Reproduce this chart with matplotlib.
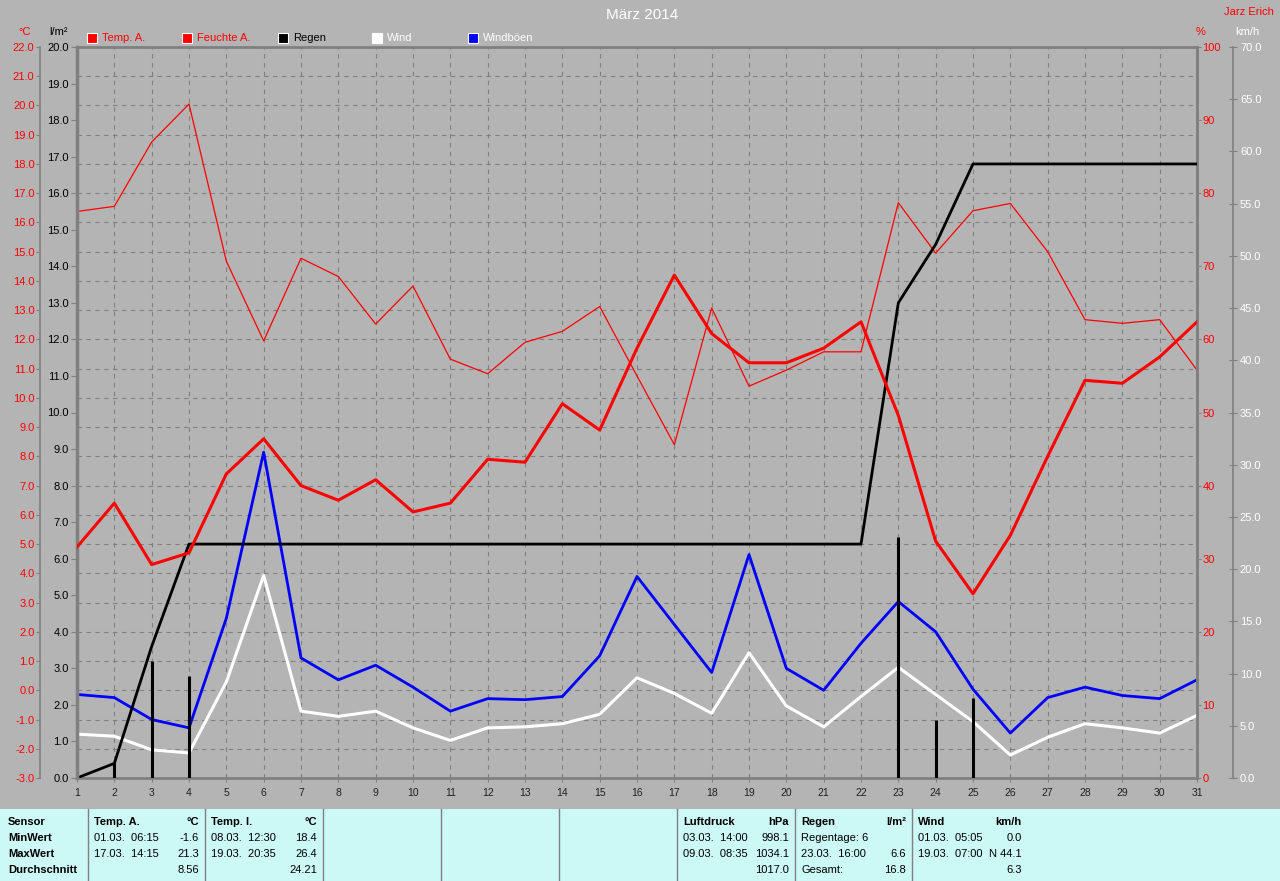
import matplotlib
matplotlib.use('Agg')
import matplotlib.pyplot as plt
from matplotlib.patches import Rectangle
from matplotlib.lines import Line2D
from matplotlib.ticker import MultipleLocator, FormatStrFormatter

plt.rcParams['font.family'] = ['Liberation Sans', 'DejaVu Sans']

# daily values, März 2014
days = list(range(1, 32))
temp = [4.9, 6.4, 4.3, 4.7, 7.4, 8.6, 7.0, 6.5, 7.2, 6.1, 6.4, 7.9, 7.8, 9.8, 8.9, 11.7,
        14.2, 12.2, 11.2, 11.2, 11.7, 12.6, 9.4, 5.1, 3.3, 5.3, 8.0, 10.6, 10.5, 11.4, 12.6]
humidity = [77.5, 78.2, 87.0, 92.2, 70.7, 59.8, 71.1, 68.6, 62.1, 67.3, 57.3, 55.3, 59.6, 61.1,
            64.5, 55.0, 45.6, 64.3, 53.6, 55.8, 58.3, 58.3, 78.7, 71.8, 77.6, 78.6, 72.0, 62.7,
            62.2, 62.7, 55.8]
rain_day = [0, 0.4, 3.2, 2.8, 0, 0, 0, 0, 0, 0, 0, 0, 0, 0, 0, 0,
            0, 0, 0, 0, 0, 0, 6.6, 1.6, 2.2, 0, 0, 0, 0, 0, 0]
rain_sum = [0.0, 0.4, 3.6, 6.4, 6.4, 6.4, 6.4, 6.4, 6.4, 6.4, 6.4, 6.4, 6.4, 6.4, 6.4, 6.4,
            6.4, 6.4, 6.4, 6.4, 6.4, 6.4, 13.0, 14.6, 16.8, 16.8, 16.8, 16.8, 16.8, 16.8, 16.8]
wind = [4.2, 4.0, 2.7, 2.4, 9.2, 19.4, 6.4, 5.9, 6.4, 4.8, 3.6, 4.8, 4.9, 5.2, 6.1, 9.6,
        8.1, 6.2, 12.0, 6.9, 4.9, 7.8, 10.6, 8.0, 5.4, 2.2, 3.9, 5.2, 4.8, 4.3, 6.0]
gusts = [8.0, 7.7, 5.6, 4.8, 15.3, 31.2, 11.5, 9.4, 10.8, 8.7, 6.4, 7.6, 7.5, 7.8, 11.7, 19.3,
         14.7, 10.1, 21.4, 10.5, 8.4, 12.9, 16.9, 14.0, 8.5, 4.3, 7.7, 8.7, 7.9, 7.6, 9.4]

legend_names = ['Temp. A.', 'Feuchte A.', 'Regen', 'Wind', 'Windböen']
legend_box = ['red', 'red', 'black', 'white', 'blue']
legend_text = ['red', 'red', 'black', 'white', 'white']

table_rows = ['Sensor', 'MinWert', 'MaxWert', 'Durchschnitt']
col_temp_a = [('Temp. A.', '°C'), ('01.03.  06:15', '-1.6'), ('17.03.  14:15', '21.3'), ('', '8.56')]
col_temp_i = [('Temp. I.', '°C'), ('08.03.  12:30', '18.4'), ('19.03.  20:35', '26.4'), ('', '24.21')]
col_druck = [('Luftdruck', 'hPa'), ('03.03.  14:00', '998.1'), ('09.03.  08:35', '1034.1'), ('', '1017.0')]
col_regen = [('Regen', 'l/m²'), ('Regentage: 6', ''), ('23.03.  16:00', '6.6'), ('Gesamt:', '16.8')]
col_wind = [('Wind', 'km/h'), ('01.03.  05:05', '0.0'), ('19.03.  07:00', 'N 44.1'), ('', '6.3')]

W, H = 1280, 881
BG = '#b4b4b4'
GRAY = '#808080'
fig = plt.figure(figsize=(12.8, 8.81), dpi=100, facecolor=BG)

def fx(x):
    return x / W

def fy(y):
    return 1 - y / H

L, R, T, B = 77, 1197, 47, 778
ax = fig.add_axes([fx(L), fy(B), (R - L) / W, (B - T) / H])
ax.set_facecolor(BG)

# temperature scale (host, carries the grid)
ax.set_xlim(1, 31)
ax.set_ylim(-3, 22)
ax.xaxis.set_major_locator(MultipleLocator(1))
ax.yaxis.set_major_locator(MultipleLocator(1))
ax.yaxis.set_major_formatter(FormatStrFormatter('%.1f'))
ax.grid(True, color=GRAY, lw=0.8, ls=(0, (4, 4)))
ax.set_axisbelow(True)
ax.spines['left'].set_position(('outward', 26.6))
for s in ['left', 'right', 'top', 'bottom']:
    ax.spines[s].set_color(GRAY)
ax.spines['left'].set_linewidth(1.2)
for s in ['right', 'top', 'bottom']:
    ax.spines[s].set_linewidth(2)
ax.tick_params(axis='y', colors=GRAY, labelcolor='red', length=3, pad=1, labelsize=8)
ax.tick_params(axis='x', colors=GRAY, labelcolor='#202020', length=3, pad=4, labelsize=7.5)

# wind scale
axw = ax.twinx()
axw.set_ylim(0, 70)
axw.yaxis.set_major_locator(MultipleLocator(5))
axw.yaxis.set_major_formatter(FormatStrFormatter('%.1f'))
for s in ['left', 'top', 'bottom']:
    axw.spines[s].set_visible(False)
axw.spines['right'].set_position(('outward', 25.9))
axw.spines['right'].set_color(GRAY)
axw.spines['right'].set_linewidth(1.2)
axw.tick_params(axis='y', direction='inout', colors=GRAY, labelcolor='white', length=6, pad=2, labelsize=8)
axw.plot(days, wind, color='white', lw=2.2)
axw.plot(days, gusts, color='blue', lw=2.0)

# humidity scale
axh = ax.twinx()
axh.set_ylim(0, 100)
axh.yaxis.set_major_locator(MultipleLocator(10))
axh.yaxis.set_major_formatter(FormatStrFormatter('%d'))
for s in ['left', 'top', 'bottom']:
    axh.spines[s].set_visible(False)
axh.spines['right'].set_color(GRAY)
axh.spines['right'].set_linewidth(2)
axh.tick_params(axis='y', colors=GRAY, labelcolor='red', length=3, pad=1, labelsize=8)
axh.plot(days, humidity, color='red', lw=0.9)

# rain scale
axr = ax.twinx()
axr.set_ylim(0, 20)
axr.yaxis.set_ticks_position('left')
axr.yaxis.set_label_position('left')
axr.yaxis.set_major_locator(MultipleLocator(1))
axr.yaxis.set_major_formatter(FormatStrFormatter('%.1f'))
for s in ['right', 'top', 'bottom']:
    axr.spines[s].set_visible(False)
axr.spines['left'].set_visible(True)
axr.spines['left'].set_color(GRAY)
axr.spines['left'].set_linewidth(2.5)
axr.tick_params(axis='y', colors=GRAY, labelcolor='black', length=4, pad=2, labelsize=8)
axr.vlines(days, 0, rain_day, color='black', lw=2.2)
axr.plot(days, rain_sum, color='black', lw=2)

# temperature line on top
axt = ax.twinx()
axt.set_ylim(-3, 22)
axt.axis('off')
axt.plot(days, temp, color='red', lw=2.2)

# header texts
fig.text(fx(642), fy(15), 'März 2014', color='white', fontsize=11, ha='center', va='center')
fig.text(fx(1249), fy(12), 'Jarz Erich', color='red', fontsize=8, ha='center', va='center')
fig.text(fx(25), fy(32), '°C', color='red', fontsize=8, ha='center', va='center')
fig.text(fx(58), fy(32), 'l/m²', color='black', fontsize=8, ha='center', va='center')
fig.text(fx(1201), fy(32), '%', color='red', fontsize=8, ha='center', va='center')
fig.text(fx(1247), fy(32), 'km/h', color='white', fontsize=8, ha='center', va='center')

# legend
leg_x = [87, 182, 278, 372, 468]
for x, name, bc, tc in zip(leg_x, legend_names, legend_box, legend_text):
    fig.add_artist(Rectangle((fx(x), fy(43)), 10 / W, 10 / H, transform=fig.transFigure,
                             facecolor=bc, edgecolor='white', lw=0.8))
    fig.text(fx(x + 15), fy(38), name, color=tc, fontsize=8, ha='left', va='center')

# statistics table
top = 809
fig.add_artist(Rectangle((0, 0), 1, (H - top) / H, transform=fig.transFigure,
                         facecolor='#ccf8f6', edgecolor='none'))
for x in [88, 205, 323, 441, 559, 677, 795, 912]:
    fig.add_artist(Line2D([fx(x), fx(x)], [0, fy(top)], transform=fig.transFigure, color=GRAY, lw=1))

row_y = [822, 838, 854, 870]
for i, (label, y) in enumerate(zip(table_rows, row_y)):
    fig.text(fx(8), fy(y), label, fontsize=8, fontweight='bold', ha='left', va='center')

cols = [(94, 199, col_temp_a), (211, 317, col_temp_i), (683, 789, col_druck),
        (801, 906, col_regen), (918, 1022, col_wind)]
for xl, xr, col in cols:
    for i, ((left, right), y) in enumerate(zip(col, row_y)):
        fw = 'bold' if i == 0 else 'normal'
        fig.text(fx(xl), fy(y), left, fontsize=8, fontweight=fw, ha='left', va='center')
        fig.text(fx(xr), fy(y), right, fontsize=8, fontweight=fw, ha='right', va='center')

fig.savefig('out.png', dpi=100, facecolor=BG)
